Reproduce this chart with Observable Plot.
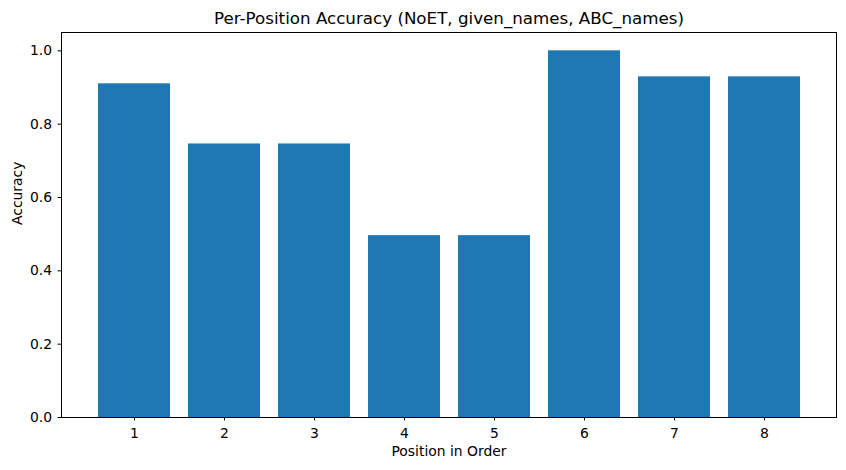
<!DOCTYPE html>
<html>
<head>
<meta charset="utf-8">
<script src="https://cdn.jsdelivr.net/npm/d3@7"></script>
<script src="https://cdn.jsdelivr.net/npm/@observablehq/plot@0.6"></script>
<style>
  html, body { margin: 0; padding: 0; background: #fff; }
  svg { font-family: "DejaVu Sans", sans-serif; }
</style>
</head>
<body>
<div id="chart"></div>
<script>
const positions = ["1", "2", "3", "4", "5", "6", "7", "8"];
const accuracy = [0.91, 0.746, 0.746, 0.496, 0.496, 1.0, 0.929, 0.929];
const yTicks = [0, 0.2, 0.4, 0.6, 0.8, 1.0];
const titleText = "Per-Position Accuracy (NoET, given_names, ABC_names)";
const xLabel = "Position in Order";
const yLabel = "Accuracy";

const data = positions.map((p, i) => ({position: p, accuracy: accuracy[i]}));

const chart = Plot.plot({
  width: 846,
  height: 470,
  marginLeft: 61,
  marginRight: 10,
  marginTop: 32,
  marginBottom: 53,
  style: {fontFamily: "DejaVu Sans, sans-serif", fontSize: "13.9px", color: "#000", background: "#fff"},
  x: {domain: positions, paddingInner: 0.2, paddingOuter: 0.39, label: null},
  y: {domain: [0, 1.05], label: null},
  marks: [
    Plot.barY(data, {x: "position", y: "accuracy", fill: "#1f77b4"}),
    Plot.frame({stroke: "#000", strokeWidth: 1}),
    Plot.axisY({ticks: yTicks, tickFormat: ".1f", tickSize: 3.5, tickPadding: 6, label: null, fontSize: 13.9}),
    Plot.axisX({tickSize: 3.5, tickPadding: 7, label: null, fontSize: 13.9}),
    Plot.text([titleText], {frameAnchor: "top", lineAnchor: "middle", dy: -13.5, fontSize: 16.7, fill: "#000"}),
    Plot.text([xLabel], {frameAnchor: "bottom", lineAnchor: "middle", dy: 34, fontSize: 13.9, fill: "#000"}),
    Plot.text([yLabel], {frameAnchor: "left", lineAnchor: "middle", dx: -44, rotate: -90, fontSize: 13.9, fill: "#000"})
  ]
});
document.getElementById("chart").appendChild(chart);
</script>
</body>
</html>
